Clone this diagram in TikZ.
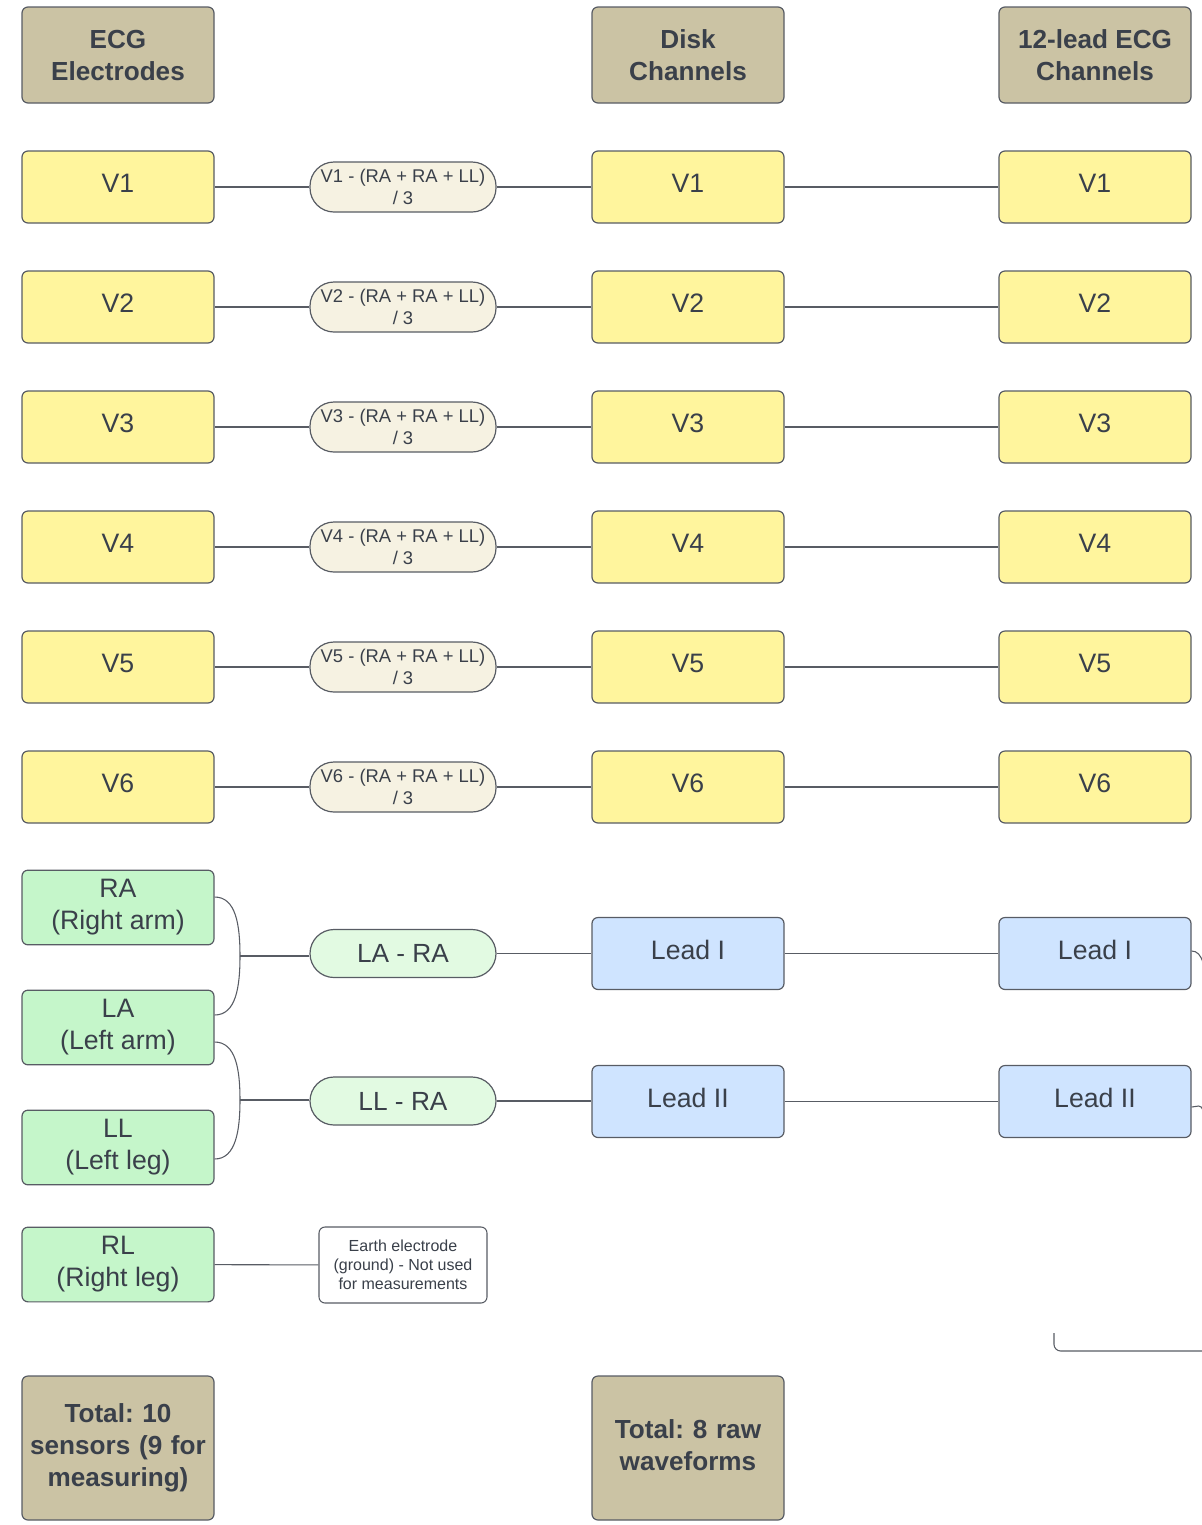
\documentclass[tikz,border=0pt]{standalone}
\usepackage{fontspec}
\setmainfont{Liberation Sans}
\frenchspacing
\definecolor{bord}{RGB}{88,92,100}
\definecolor{txt}{RGB}{58,64,74}
\definecolor{tan}{RGB}{203,195,164}
\definecolor{yel}{RGB}{255,245,157}
\definecolor{cream}{RGB}{246,242,226}
\definecolor{grn}{RGB}{197,246,202}
\definecolor{lgrn}{RGB}{226,250,226}
\definecolor{blu}{RGB}{207,228,255}
\tikzset{
  box/.style={draw=bord, line width=0.9pt, rounded corners=4.5pt, minimum width=144pt, minimum height=54pt, inner sep=2pt, align=center, text=txt, font=\fontsize{20}{24}\selectfont},
  hdr/.style={box, fill=tan, minimum height=72pt, font=\fontsize{19.6}{24}\selectfont\bfseries},
  vbox/.style={box, fill=yel, text depth=5pt},
  gbox/.style={box, fill=grn, minimum height=56pt, font=\fontsize{20}{24}\selectfont},
  bbox/.style={box, fill=blu, text depth=5pt},
  tot/.style={box, fill=tan, minimum height=108pt, text width=140pt, font=\fontsize{19.6}{24}\selectfont\bfseries},
  pill/.style={draw=bord, line width=0.9pt, rounded corners=18pt, fill=cream, minimum width=139.5pt, minimum height=37.5pt, inner sep=1pt, align=center, text=txt, font=\fontsize{13.8}{16.5}\selectfont},
  gpill/.style={pill, fill=lgrn, minimum height=36pt, font=\fontsize{19.7}{22}\selectfont},
  note/.style={draw=bord, line width=0.8pt, rounded corners=4.5pt, fill=white, minimum width=126pt, minimum height=57pt, align=center, text=txt, font=\fontsize{12}{14.25}\selectfont},
  conn/.style={draw=bord, line width=0.8pt},
}
\begin{document}
\begin{tikzpicture}[x=0.75pt,y=-0.75pt]
\useasboundingbox (0,0) rectangle (1202,1525);
% headers
\node[hdr] (h1) at (118,55) {ECG\\Electrodes};
\node[hdr] (h2) at (688,55) {Disk\\Channels};
\node[hdr] (h3) at (1095,55) {12-lead ECG\\Channels};
% V rows
\foreach \i/\y in {1/187,2/307,3/427,4/547,5/667,6/787}{
  \node[vbox] (e\i) at (118,\y) {V\i};
  \node[pill] (p\i) at (403,\y) {V\i{} - (RA + RA + LL)\\/ 3};
  \node[vbox] (d\i) at (688,\y) {V\i};
  \node[vbox] (c\i) at (1095,\y) {V\i};
  \draw[conn] (e\i) -- (p\i);
  \draw[conn] (p\i) -- (d\i);
  \draw[conn] (d\i) -- (c\i);
}
% limb electrodes
\node[gbox] (ra) at (118,907.5) {RA\\(Right arm)};
\node[gbox] (la) at (118,1027.5) {LA\\(Left arm)};
\node[gbox] (ll) at (118,1147.5) {LL\\(Left leg)};
\node[gbox] (rl) at (118,1264.5) {RL\\(Right leg)};
\node[gpill] (p7) at (403,953.5) {LA - RA};
\node[gpill] (p8) at (403,1101) {LL - RA};
\node[bbox] (d7) at (688,953.5) {Lead I};
\node[bbox] (d8) at (688,1101.5) {Lead II};
\node[bbox] (c7) at (1095,953.5) {Lead I};
\node[bbox] (c8) at (1095,1101.5) {Lead II};
\node[note] (n1) at (403,1265) {Earth electrode\\(ground) - Not used\\for measurements};
\node[tot] (t1) at (118,1448) {Total: 10\\sensors (9 for\\measuring)};
\node[tot, text depth=28.5pt] (t2) at (688,1448) {Total: 8 raw\\waveforms};
% braces
\coordinate (j1) at (240,956);
\coordinate (j2) at (240,1100);
\draw[conn] (ra.east |- 0,897) .. controls (236,897) and (240,925) .. (j1);
\draw[conn] (la.east |- 0,1015) .. controls (236,1015) and (240,987) .. (j1);
\draw[conn] (j1) -- (j1 -| p7.west);
\draw[conn] (la.east |- 0,1042) .. controls (236,1042) and (240,1070) .. (j2);
\draw[conn] (ll.east |- 0,1159) .. controls (236,1159) and (240,1130) .. (j2);
\draw[conn] (j2) -- (j2 -| p8.west);
\draw[conn] (p7) -- (d7);
\draw[conn] (p8.east) -- (d8.west |- p8.east);
\draw[conn] (d7) -- (c7);
\draw[conn] (d8) -- (c8);
\draw[conn] (rl) -- (n1);
% off-canvas connectors
\coordinate (o1) at (1203,963);
\coordinate (o2) at (1203,1111);
\draw[conn] (c7.east |- 0,951) .. controls (1197,951) and (1201,955) .. (o1);
\draw[conn] (c8.east |- 0,1107) .. controls (1197,1107) and (1201,1103) .. (o2);
\coordinate (b1) at (1054,1333);
\coordinate (b2) at (1203,1351);
\draw[conn, rounded corners=5pt] (b1) -- (b1 |- b2) -- (b2);
\end{tikzpicture}
\end{document}
